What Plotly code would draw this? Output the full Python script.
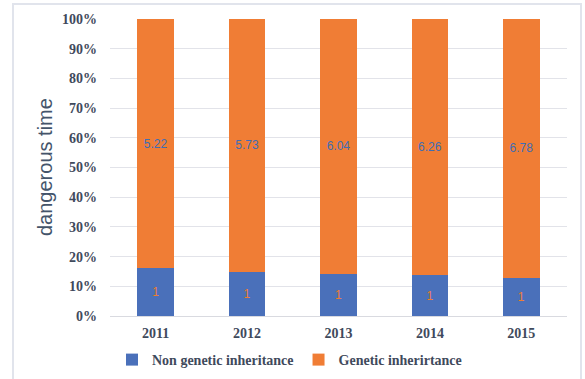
import plotly.graph_objects as go

years = ["2011", "2012", "2013", "2014", "2015"]
non_genetic = [1, 1, 1, 1, 1]
genetic = [5.22, 5.73, 6.04, 6.26, 6.78]
y_ticks = list(range(0, 101, 10))
y_tick_labels = [f"{v}%" for v in y_ticks]

blue = "#4A70BA"
orange = "#F07D35"
serif = "Liberation Serif, Times New Roman, serif"
tick_color = "#3F4A5C"

fig = go.Figure()
fig.add_trace(go.Bar(
    x=years, y=non_genetic, name="Non genetic inheritance",
    marker=dict(color=blue, line=dict(width=0)),
    text=[str(v) for v in non_genetic], textposition="inside",
    insidetextanchor="middle", textangle=0,
    textfont=dict(family="Liberation Sans", size=12, color="#ED7D31"),
))
fig.add_trace(go.Bar(
    x=years, y=genetic, name="Genetic inherirtance",
    marker=dict(color=orange, line=dict(width=0)),
    text=[f"{v:.2f}" for v in genetic], textposition="inside",
    insidetextanchor="middle", textangle=0,
    textfont=dict(family="Liberation Sans", size=12, color="#3F6DB5"),
))

L, R, T, B = 110, 18, 19, 63
W, H = 585, 379
pw, ph = W - L - R, H - T - B

def px(x):
    return (x - L) / pw

def py(y):
    return (H - B - y) / ph

fig.update_layout(
    width=W, height=H,
    margin=dict(l=L, r=R, t=T, b=B, autoexpand=False),
    paper_bgcolor="white", plot_bgcolor="white",
    barmode="stack", barnorm="percent", bargap=0.6,
    showlegend=True,
    legend=dict(orientation="h", x=px(112), xanchor="left", y=py(360), yanchor="middle",
                font=dict(family=serif, size=14, color=tick_color, weight="bold"),
                traceorder="normal", itemwidth=30, bgcolor="rgba(0,0,0,0)"),
    xaxis=dict(showgrid=False, showline=False, ticks="", ticklabelstandoff=7,
               tickfont=dict(family=serif, size=14, color=tick_color, weight="bold")),
    yaxis=dict(range=[0, 100], tickmode="array", tickvals=y_ticks, ticktext=y_tick_labels,
               showgrid=True,
               gridcolor="#E2E3E9", gridwidth=1.3, zeroline=True, zerolinecolor="#D9DAE0",
               zerolinewidth=1.3, showline=False, ticks="", ticklabelstandoff=12,
               tickfont=dict(family=serif, size=14, color=tick_color, weight="bold")),
    annotations=[dict(text="dangerous time", textangle=-90, xref="paper", yref="paper",
                      x=px(45), y=py(167), xanchor="center", yanchor="middle", showarrow=False,
                      font=dict(family="Liberation Sans", size=20, color="#44546A"))],
    shapes=[dict(type="rect", xref="paper", yref="paper", x0=px(13), x1=px(581),
                 y0=py(390), y1=py(4), line=dict(color="#E1E4EC", width=2), layer="below")],
)

fig.write_html("out.html")
